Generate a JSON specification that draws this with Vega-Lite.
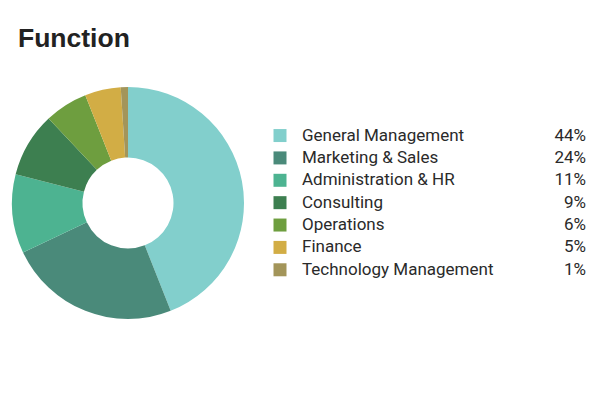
{
  "$schema": "https://vega.github.io/schema/vega-lite/v6.json",
  "padding": {"left": 12, "top": 25, "right": 6, "bottom": 6},
  "background": "white",
  "title": {"text": "Function", "anchor": "start", "fontSize": 26.5, "font": "Liberation Sans", "fontWeight": "bold", "color": "#222222", "offset": 35, "dx": 6},
  "config": {"view": {"stroke": null}, "font": "Roboto"},
  "data": {"values": [
    {"rank": 1, "Function": "General Management", "pct": 0.44},
    {"rank": 2, "Function": "Marketing & Sales", "pct": 0.24},
    {"rank": 3, "Function": "Administration & HR", "pct": 0.11},
    {"rank": 4, "Function": "Consulting", "pct": 0.09},
    {"rank": 5, "Function": "Operations", "pct": 0.06},
    {"rank": 6, "Function": "Finance", "pct": 0.05},
    {"rank": 7, "Function": "Technology Management", "pct": 0.01}
  ]},
  "spacing": 22,
  "hconcat": [
    {
      "width": 232,
      "height": 232,
      "mark": {"type": "arc", "outerRadius": 116, "innerRadius": 45.5},
      "encoding": {
        "theta": {"field": "pct", "type": "quantitative", "stack": true},
        "order": {"field": "rank", "type": "quantitative"},
        "color": {
          "field": "Function", "type": "nominal", "legend": null,
          "scale": {
            "domain": ["General Management", "Marketing & Sales", "Administration & HR", "Consulting", "Operations", "Finance", "Technology Management"],
            "range": ["#82CFCC", "#4A8A7A", "#4DB391", "#3D7F50", "#6E9E3F", "#D2AD45", "#A3955A"]
          }
        }
      }
    },
    {
      "width": 320,
      "height": 232,
      "encoding": {
        "y": {"field": "rank", "type": "quantitative", "axis": null, "scale": {"domain": [-1.17, 9.2], "reverse": true, "nice": false, "zero": false}}
      },
      "layer": [
        {
          "mark": {"type": "square", "size": 169, "opacity": 1, "filled": true},
          "encoding": {
            "x": {"datum": 14, "type": "quantitative", "scale": {"domain": [0, 320], "nice": false, "zero": false}, "axis": null},
            "color": {
              "field": "Function", "type": "nominal", "legend": null,
              "scale": {
                "domain": ["General Management", "Marketing & Sales", "Administration & HR", "Consulting", "Operations", "Finance", "Technology Management"],
                "range": ["#82CFCC", "#4A8A7A", "#4DB391", "#3D7F50", "#6E9E3F", "#D2AD45", "#A3955A"]
              }
            }
          }
        },
        {
          "mark": {"type": "text", "align": "left", "baseline": "middle", "fontSize": 17, "font": "Roboto", "color": "#2a2a2a"},
          "encoding": {
            "x": {"datum": 36, "type": "quantitative"},
            "text": {"field": "Function"}
          }
        },
        {
          "mark": {"type": "text", "align": "right", "baseline": "middle", "fontSize": 17, "font": "Roboto", "color": "#2a2a2a"},
          "encoding": {
            "x": {"datum": 320, "type": "quantitative"},
            "text": {"field": "pct", "type": "quantitative", "format": ".0%"}
          }
        }
      ]
    }
  ]
}
